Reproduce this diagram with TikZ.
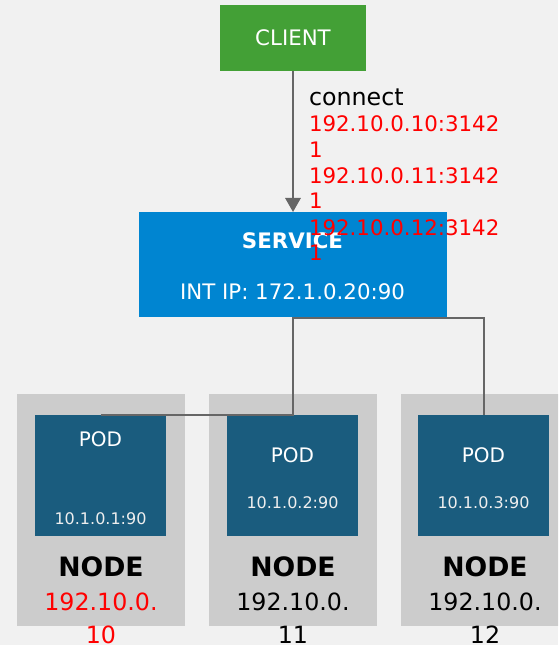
\documentclass[tikz,border=0pt]{standalone}
\usepackage{fontspec}
\setmainfont{DejaVu Sans}
\usetikzlibrary{arrows.meta}

\definecolor{canvas}{HTML}{F1F1F1}
\definecolor{clientgreen}{HTML}{43A036}
\definecolor{svcblue}{HTML}{0085D1}
\definecolor{podblue}{HTML}{1A5C7E}
\definecolor{hostgray}{HTML}{CCCCCC}
\definecolor{wire}{HTML}{666666}
\definecolor{podtext}{HTML}{EEEEEE}

\begin{document}
\begin{tikzpicture}[x=0.75pt,y=-0.75pt,
  box/.style={draw=none, inner sep=0pt, outer sep=0pt},
  hostbox/.style={box, fill=hostgray, minimum width=126pt, minimum height=174pt},
  podbox/.style={box, fill=podblue, minimum width=98.25pt, minimum height=90.75pt},
  txt/.style={inner sep=0pt, outer sep=0pt, anchor=base},
  wireline/.style={draw=wire, line width=1.5pt},
  podtitle/.style={txt, text=white, font=\fontsize{15pt}{18pt}\selectfont},
  podaddr/.style={txt, text=podtext, font=\fontsize{12pt}{14pt}\selectfont},
  hosttitle/.style={txt, font=\bfseries\fontsize{20pt}{24pt}\selectfont},
  hostaddr/.style={txt, font=\fontsize{17.8pt}{21pt}\selectfont},
  redline/.style={txt, anchor=base west, text=red, font=\fontsize{16pt}{19pt}\selectfont}
]
\fill[canvas] (0,0) rectangle (558,645);
\useasboundingbox (0,0) rectangle (558,645);
\clip (0,0) rectangle (558,645);

% hosts and their pods
\node[hostbox] (host1) at (101,510) {};
\node[hostbox] (host2) at (293,510) {};
\node[hostbox] (host3) at (485,510) {};
\node[podbox] (pod1) at (100.5,475.5) {};
\node[podbox] (pod2) at (292.5,475.5) {};
\node[podbox] (pod3) at (483.5,475.5) {};

% client and service
\node[box, fill=clientgreen, minimum width=109.5pt, minimum height=49.5pt,
      text=white, font=\fontsize{16pt}{19pt}\selectfont] (client) at (293,38) {CLIENT};
\node[box, fill=svcblue, minimum width=231pt, minimum height=78.75pt] (svc) at (292.5,264.5) {};

% connectors
\draw[wireline, -{Triangle[length=10.5pt, width=11.5pt]}] (client.south) -- (client.south |- svc.north);
\draw[wireline] (svc.south) |- (pod1.north);
\draw[wireline] (svc.south) -- (svc.south |- pod2.north);
\draw[wireline] ([yshift=-0.75pt]svc.south) -| (pod3.north);

% service text
\node[txt, text=white, font=\bfseries\fontsize{16pt}{19pt}\selectfont] (svcname) at (292.5,248) {SERVICE};
\node[txt, text=white, font=\fontsize{16pt}{19pt}\selectfont] (svcip) at (292.5,299) {INT IP: 172.1.0.20:90};

% pod text
\node[podtitle] (pod1name) at (100.5,446) {POD};
\node[podaddr] (pod1ip) at (100.5,524) {10.1.0.1:90};
\node[podtitle] (pod2name) at (292.5,462) {POD};
\node[podaddr] (pod2ip) at (292.5,508) {10.1.0.2:90};
\node[podtitle] (pod3name) at (483.5,462) {POD};
\node[podaddr] (pod3ip) at (483.5,508) {10.1.0.3:90};

% host text
\node[hosttitle] (host1name) at (101,576) {NODE};
\node[hostaddr, text=red] (host1ipa) at (101,610) {192.10.0.};
\node[hostaddr, text=red] (host1ipb) at (101,643) {10};
\node[hosttitle] (host2name) at (293,576) {NODE};
\node[hostaddr] (host2ipa) at (293,610) {192.10.0.};
\node[hostaddr] (host2ipb) at (293,643) {11};
\node[hosttitle] (host3name) at (485,576) {NODE};
\node[hostaddr] (host3ipa) at (485,610) {192.10.0.};
\node[hostaddr] (host3ipb) at (485,643) {12};

% connection label
\node[txt, anchor=base west, font=\fontsize{17.8pt}{21pt}\selectfont] (connlbl) at (309,106) {connect};
\node[redline] (ipa1) at (309,132) {192.10.0.10:3142};
\node[redline] (ipa2) at (309,158) {1};
\node[redline] (ipb1) at (309,183.5) {192.10.0.11:3142};
\node[redline] (ipb2) at (309,209) {1};
\node[redline] (ipc1) at (309,235) {192.10.0.12:3142};
\node[redline] (ipc2) at (309,260.5) {1};
\end{tikzpicture}
\end{document}
